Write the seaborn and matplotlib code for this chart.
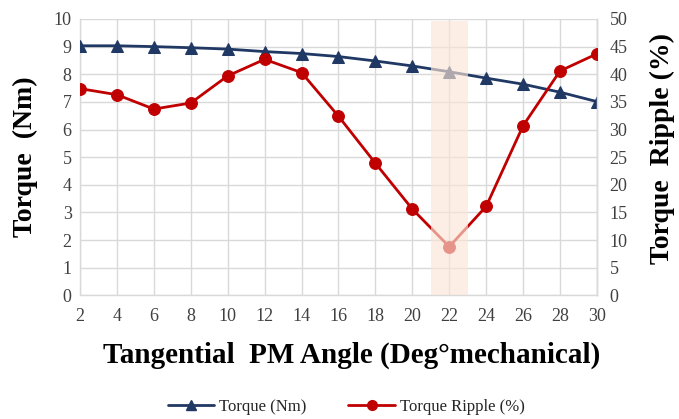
import matplotlib
matplotlib.use("Agg")
import matplotlib.pyplot as plt
import seaborn as sns
import pandas as pd
from matplotlib.lines import Line2D

angle = [2, 4, 6, 8, 10, 12, 14, 16, 18, 20, 22, 24, 26, 28, 30]
torque = [9.03, 9.03, 9.00, 8.96, 8.91, 8.82, 8.75, 8.64, 8.48, 8.30, 8.09, 7.86, 7.64, 7.35, 7.01]
ripple = [37.4, 36.3, 33.7, 34.8, 39.7, 42.7, 40.3, 32.4, 23.9, 15.6, 8.8, 16.1, 30.7, 40.6, 43.7]
left_ticks = list(range(0, 11))
right_ticks = list(range(0, 51, 5))
highlight = (21, 23)

df = pd.DataFrame({"angle": angle, "torque": torque, "ripple": ripple})

sns.set_theme(style="white")
plt.rcParams['font.family'] = ['Liberation Serif', 'DejaVu Serif']

navy = "#203864"
red = "#C00000"
grid = "#D9D9D9"

fig = plt.figure(figsize=(6.79, 4.19), dpi=100)
ax = fig.add_axes([0.1178, 0.2952, 0.7614, 0.6595])
ax2 = ax.twinx()

sns.lineplot(data=df, x="angle", y="torque", ax=ax, color=navy, marker="^",
             markersize=9, markeredgecolor=navy, linewidth=2, zorder=3)
sns.lineplot(data=df, x="angle", y="ripple", ax=ax2, color=red, marker="o",
             markersize=8.5, markeredgecolor=red, linewidth=2, zorder=3)

ax.set_xlim(2, 30)
ax.set_ylim(0, 10)
ax2.set_ylim(0, 50)
ax.set_xticks(angle)
ax.set_yticks(left_ticks)
ax2.set_yticks(right_ticks)
ax.grid(True, color=grid, linewidth=1)
ax.set_axisbelow(True)
ax2.grid(False)

for a in (ax, ax2):
    a.spines["top"].set_visible(False)
    for s in ("left", "bottom", "right"):
        a.spines[s].set_color(grid)
        a.spines[s].set_linewidth(1)
    a.tick_params(axis="both", which="both", length=0, labelsize=13, colors="#404040", pad=6)
ax.tick_params(axis="x", pad=9)
ax2.tick_params(axis="y", pad=9)
ax2.spines["left"].set_visible(False)
ax2.spines["bottom"].set_visible(False)

ax2.axvspan(highlight[0], highlight[1], ymin=0, ymax=0.993, color="#FBE5D6", alpha=0.65, zorder=5, linewidth=0)

ax.set_xlabel("Tangential  PM Angle (Deg°mechanical)", fontsize=21, fontweight="bold", labelpad=12,
              color="black", x=0.525)
ax.set_ylabel("Torque  (Nm)", fontsize=20, fontweight="bold", labelpad=11, color="black")
ax2.set_ylabel("Torque  Ripple (%)", fontsize=20, fontweight="bold", labelpad=16, color="black", y=0.53)

handles = [Line2D([0], [0], color=navy, marker="^", markersize=7, linewidth=2, label="Torque (Nm)"),
           Line2D([0], [0], color=red, marker="o", markersize=7, linewidth=2, label="Torque Ripple (%)")]
fig.legend(handles=handles, loc="center", bbox_to_anchor=(0.51, 0.028), ncol=2, frameon=False,
           fontsize=12, handlelength=2.8, columnspacing=2.5, handletextpad=0.3)

fig.savefig("out.png", dpi=100)
